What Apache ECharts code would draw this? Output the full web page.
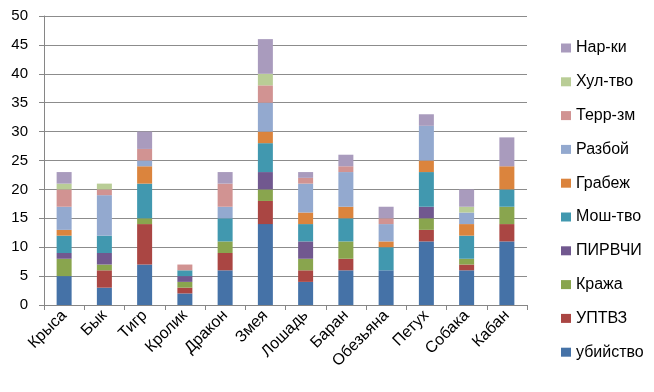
<!DOCTYPE html>
<html><head><meta charset="utf-8">
<script src="https://cdn.jsdelivr.net/npm/echarts@6/dist/echarts.min.js"></script>
<style>html,body{margin:0;padding:0;background:#fff}#c{width:654px;height:392px}</style>
</head><body><div id="c"></div>
<script>
const categories = ['Крыса','Бык','Тигр','Кролик','Дракон','Змея','Лошадь','Баран','Обезьяна','Петух','Собака','Кабан'];
const yTicks = [0,5,10,15,20,25,30,35,40,45,50];
const seriesNames = ['убийство','УПТВЗ','Кража','ПИРВЧИ','Мош-тво','Грабеж','Разбой','Терр-зм','Хул-тво','Нар-ки'];
const ubiystvo = [5,3,7,2,6,14,4,6,6,11,6,11];
const uptvz    = [0,3,7,1,3,4,2,2,0,2,1,3];
const krazha   = [3,1,1,1,2,2,2,3,0,2,1,3];
const pirvchi  = [1,2,0,1,0,3,3,0,0,2,0,0];
const moshtvo  = [3,3,6,1,4,5,3,4,4,6,4,3];
const grabezh  = [1,0,3,0,0,2,2,2,1,2,2,4];
const razboy   = [4,7,1,0,2,5,5,6,3,6,2,0];
const terrzm   = [3,1,2,1,4,3,1,1,1,0,0,0];
const hultvo   = [1,1,0,0,0,2,0,0,0,0,1,0];
const narki    = [2,0,3,0,2,6,1,2,2,2,3,5];
const values = [ubiystvo,uptvz,krazha,pirvchi,moshtvo,grabezh,razboy,terrzm,hultvo,narki];
const colors = ['#4572A7','#AA4643','#89A54E','#71588F','#4198AF','#DB843D','#93A9CF','#D19392','#B9CD96','#A99BBD'];

const FONT = 'Liberation Sans';
const chart = echarts.init(document.getElementById('c'), null, {renderer:'canvas'});
chart.setOption({
  animation:false,
  color: colors,
  grid:{left:44, right:127, top:16, bottom:87, containLabel:false},
  legend:{
    orient:'vertical', left:556, top:35, itemGap:17.8, itemWidth:10, itemHeight:9,
    icon:'rect', data: seriesNames.slice().reverse(),
    textStyle:{fontFamily:FONT, fontSize:16, lineHeight:16, color:'#000'}
  },
  xAxis:{
    type:'category', data:categories,
    axisLine:{lineStyle:{color:'#868686'}},
    axisTick:{show:true, length:5, lineStyle:{color:'#868686'}},
    axisLabel:{rotate:45, fontFamily:FONT, fontSize:16, color:'#000', margin:8, interval:0}
  },
  yAxis:{
    type:'value', min:0, max:50, interval:5,
    axisLine:{show:true, lineStyle:{color:'#868686'}},
    axisTick:{show:true, length:5, lineStyle:{color:'#868686'}},
    splitLine:{lineStyle:{color:'#8c8c8c'}},
    axisLabel:{fontFamily:FONT, fontSize:15, color:'#000', margin:16,
      formatter: v => yTicks.includes(v) ? String(v) : ''}
  },
  series: seriesNames.map((n,i)=>({
    name:n, type:'bar', stack:'s', barWidth:15, data:values[i],
    itemStyle:{color:colors[i]}
  }))
});
</script></body></html>
